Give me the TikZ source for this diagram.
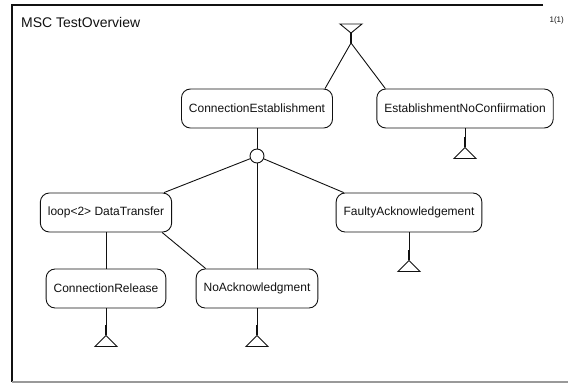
\documentclass[tikz,border=0pt]{standalone}
\usepackage{fontspec}
\setmainfont{Liberation Sans}
\usepackage{xcolor}
\usepackage{tikz}
\usetikzlibrary{positioning,calc}
\definecolor{inkK}{HTML}{111111}
\definecolor{frameG}{HTML}{999999}

\tikzset{
  mscref/.style={draw=inkK, rounded corners=9bp, line width=0.9bp,
        minimum height=39bp, inner xsep=7.5bp, inner ysep=0pt,
        font=\fontsize{12bp}{14bp}\selectfont, text=inkK},
  link/.style={draw=inkK, line width=0.9bp},
  stub/.style={draw=inkK, line width=1.8bp},
  hubdot/.style={circle, draw=inkK, line width=0.9bp, fill=white,
        minimum size=14bp, inner sep=0pt}
}
\newcommand{\mscstop}[1]{\draw[link] (#1) -- ++(-11,11) -- ++(22,0) -- cycle;}

\begin{document}
\begin{tikzpicture}[x=1bp, y=-1bp]
  \useasboundingbox (0,0) rectangle (568,383);
  % frame
  \draw[inkK, line width=1.2bp] (543,5) -- (12,5) -- (12,382);
  \draw[frameG, line width=1.2bp] (12,382) -- (568,382);
  \node[anchor=west, inner sep=0pt, font=\fontsize{14bp}{16bp}\selectfont, text=inkK]
    (title) at (21,22) {MSC TestOverview};
  \node[anchor=east, inner sep=0pt, font=\fontsize{8bp}{10bp}\selectfont, text=inkK]
    (page) at (564,20) {1(1)};

  % references
  \node[mscref] (ce)    at (257,108.5) {ConnectionEstablishment};
  \node[mscref] (enc)   at (465,108.5) {EstablishmentNoConfiirmation};
  \node[hubdot] (hub)   at (257,156) {};
  \node[mscref] (loop)  at (106,212.5) {loop<2> DataTransfer};
  \node[mscref] (fa)    at (409,212.5) {FaultyAcknowledgement};
  \node[mscref] (cr)    at (106,288.5) {ConnectionRelease};
  \node[mscref] (noack) at (257,288.5) {NoAcknowledgment};

  % start symbol
  \coordinate (top) at (351,33);
  \coordinate (split) at (351,43);
  \draw[link] (top) -- ++(-11,-9) -- ++(22,0) -- cycle;
  \draw[stub] (top) -- (split);
  \draw[link] (split) -- ([xshift=-8bp]ce.north east);
  \draw[link] (split) -- ([xshift=9bp]enc.north west);

  % connections
  \draw[link] (ce.south) -- (hub);
  \draw[link] (hub) -- ([xshift=-8bp]loop.north east);
  \draw[link] (hub) -- ([xshift=8bp]fa.north west);
  \draw[link] (hub) -- (noack.north);
  \draw[link] (loop.south) -- (cr.north);
  \draw[link] ([xshift=-10bp]loop.south east) -- ([xshift=10bp]noack.north west);

  % end symbols
  \draw[link] (enc.south) -- ++(0,9) coordinate (encA);
  \draw[stub] (encA) -- ++(0,10) coordinate (encB);
  \mscstop{encB}
  \draw[link] (fa.south) -- ++(0,18) coordinate (faA);
  \draw[stub] (faA) -- ++(0,10) coordinate (faB);
  \mscstop{faB}
  \draw[link] (cr.south) -- ++(0,17) coordinate (crA);
  \draw[stub] (crA) -- ++(0,10) coordinate (crB);
  \mscstop{crB}
  \draw[link] (noack.south) -- ++(0,17) coordinate (naA);
  \draw[stub] (naA) -- ++(0,10) coordinate (naB);
  \mscstop{naB}
\end{tikzpicture}
\end{document}
